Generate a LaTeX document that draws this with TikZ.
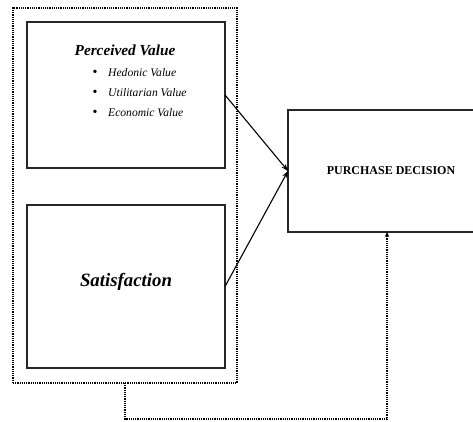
\documentclass[tikz,border=0pt]{standalone}
\usepackage{fontspec}
\setmainfont{Liberation Serif}
\usetikzlibrary{arrows.meta}

\tikzset{
  box/.style={draw=black!85, line width=1.4pt, inner sep=0pt, outer sep=0pt},
  group/.style={draw=black, densely dotted, line width=1.2pt, inner sep=0pt, outer sep=0pt},
  item/.style={anchor=west, font=\fontsize{11.6}{13}\selectfont\itshape, inner sep=0pt},
  dotitem/.style={font=\fontsize{14}{16}\selectfont, inner sep=0pt}
}

\begin{document}
\begin{tikzpicture}[x=1pt,y=-1pt]
    \useasboundingbox (0,0) rectangle (473,421);
    \clip (0,0) rectangle (473,421);
    % group of the two factors
    \node[group, minimum width=224pt, minimum height=375pt] (grp) at (125,195.5) {};
    \node[box, minimum width=198pt, minimum height=146pt] (pv) at (126,95) {};
    \node[box, minimum width=198pt, minimum height=163pt] (sat) at (126,286.5) {};
    \node[box, minimum width=198pt, minimum height=122pt] (pd) at (387,171) {};
    % texts
    \node[font=\fontsize{15.3}{18}\selectfont\bfseries\itshape] (pvtitle) at (125,50) {Perceived Value};
    \node[dotitem] (b1) at (95,73) {\textbullet};
    \node[dotitem] (b2) at (95,93) {\textbullet};
    \node[dotitem] (b3) at (95,113) {\textbullet};
    \node[item] (hed) at (108,73) {Hedonic Value};
    \node[item] (uti) at (108,93) {Utilitarian Value};
    \node[item] (eco) at (108,113) {Economic Value};
    \node[font=\fontsize{18.8}{22}\selectfont\bfseries\itshape] (sattext) at (126,282) {Satisfaction};
    \node[font=\fontsize{12}{14}\selectfont\bfseries] (pdtext) at (391,171) {PURCHASE DECISION};
    % connectors
    \draw[-{Stealth[length=7pt,width=5pt]}, line width=1.1pt] (pv.east) -- (pd.west);
    \draw[-{Stealth[length=7pt,width=5pt]}, line width=1.1pt] (sat.east) -- (pd.west);
    \coordinate (c1) at (grp.south |- 0,419);
    \coordinate (c2) at (pd.south |- 0,419);
    \draw[densely dotted, line width=1.2pt, -{Stealth[length=5pt,width=4.5pt]}] (grp.south) -- (c1) -- (c2) -- (pd.south);
  \end{tikzpicture}
\end{document}
